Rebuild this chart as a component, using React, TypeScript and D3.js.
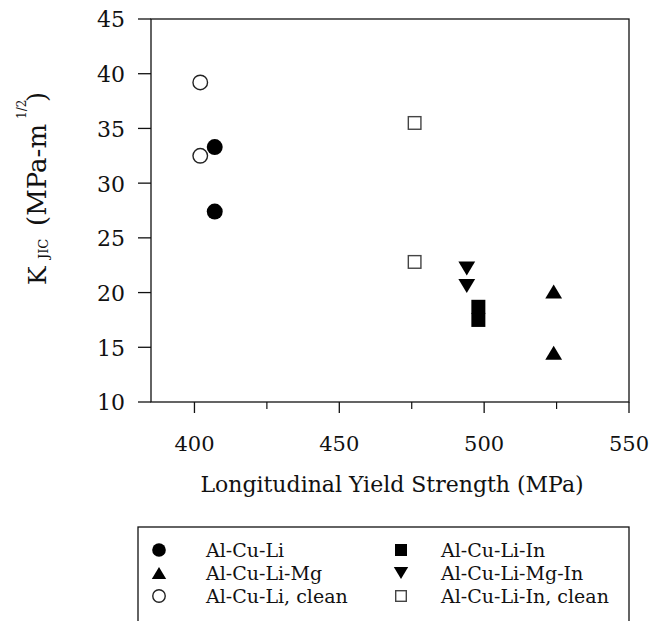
import React from "react";
import * as d3 from "d3";

// values
const alCuLi: [number, number][] = [[407, 33.3], [407, 27.4]];
const alCuLiMg: [number, number][] = [[524, 20.1], [524, 14.5]];
const alCuLiIn: [number, number][] = [[498, 18.7], [498, 17.5]];
const alCuLiMgIn: [number, number][] = [[494, 22.2], [494, 20.6]];
const alCuLiClean: [number, number][] = [[402, 39.2], [402, 32.5]];
const alCuLiInClean: [number, number][] = [[476, 35.5], [476, 22.8]];

const xTicks = [400, 450, 500, 550];
const xMinor = [425, 475, 525];
const yTicks = [10, 15, 20, 25, 30, 35, 40, 45];

const legendLeft = ["Al-Cu-Li", "Al-Cu-Li-Mg", "Al-Cu-Li, clean"];
const legendRight = ["Al-Cu-Li-In", "Al-Cu-Li-Mg-In", "Al-Cu-Li-In, clean"];

const W = 652;
const H = 621;
const plot = { left: 151, right: 629, top: 19, bottom: 402 };
const font = "DejaVu Serif, serif";

// marker shapes
const tri = (cx: number, cy: number, w: number, h: number, up: boolean) =>
  up
    ? `M${cx - w / 2},${cy + h / 2}L${cx + w / 2},${cy + h / 2}L${cx},${cy - h / 2}Z`
    : `M${cx - w / 2},${cy - h / 2}L${cx + w / 2},${cy - h / 2}L${cx},${cy + h / 2}Z`;

type Kind = "fcircle" | "ocircle" | "up" | "down" | "fsquare" | "osquare";

const Marker = ({ kind, cx, cy, s }: { kind: Kind; cx: number; cy: number; s: number }) => {
  switch (kind) {
    case "fcircle":
      return <circle cx={cx} cy={cy} r={s * 0.57} fill="#000" />;
    case "ocircle":
      return <circle cx={cx} cy={cy} r={s * 0.52} fill="#fff" stroke="#222" strokeWidth={1.4} />;
    case "up":
      return <path d={tri(cx, cy, s * 1.2, s, true)} fill="#000" />;
    case "down":
      return <path d={tri(cx, cy, s * 1.2, s, false)} fill="#000" />;
    case "fsquare":
      return <rect x={cx - s / 2} y={cy - s / 2} width={s} height={s} fill="#000" />;
    case "osquare":
      return (
        <rect x={cx - s / 2 + 0.7} y={cy - s / 2 + 0.7} width={s - 1.4} height={s - 1.4}
          fill="#fff" stroke="#444" strokeWidth={1.4} />
      );
  }
  return null;
};

export default function App() {
  const x = d3.scaleLinear().domain([385, 550]).range([plot.left, plot.right]);
  const y = d3.scaleLinear().domain([10, 45]).range([plot.bottom, plot.top]);

  const series: { data: [number, number][]; kind: Kind }[] = [
    { data: alCuLiClean, kind: "ocircle" },
    { data: alCuLi, kind: "fcircle" },
    { data: alCuLiInClean, kind: "osquare" },
    { data: alCuLiMgIn, kind: "down" },
    { data: alCuLiIn, kind: "fsquare" },
    { data: alCuLiMg, kind: "up" },
  ];

  const legendKindsL: Kind[] = ["fcircle", "up", "ocircle"];
  const legendKindsR: Kind[] = ["fsquare", "down", "osquare"];
  const rowY = [550, 573, 596];

  return (
    <svg width={W} height={H}
      style={{ position: "absolute", left: 0, top: 0, background: "#fff" }}>
      <rect width={W} height={H} fill="#fff" />
      <g fontFamily={font}>

      {/* frame */}
      <rect x={plot.left} y={plot.top} width={plot.right - plot.left} height={plot.bottom - plot.top}
        fill="none" stroke="#111" strokeWidth={1.3} />

      {/* y axis ticks */}
      {yTicks.map((t) => (
        <g key={t}>
          <line x1={plot.left - 13} x2={plot.left} y1={y(t)} y2={y(t)} stroke="#111" strokeWidth={1.3} />
          <text x={125} y={y(t)} dy="0.38em" textAnchor="end" fontSize={22} fill="#111">{t}</text>
        </g>
      ))}

      {/* x axis ticks */}
      {xTicks.map((t) => (
        <g key={t}>
          <line x1={x(t)} x2={x(t)} y1={plot.bottom} y2={plot.bottom + 11} stroke="#111" strokeWidth={1.3} />
          <text x={x(t)} y={451} textAnchor="middle" fontSize={21} fill="#111">{t}</text>
        </g>
      ))}
      {xMinor.map((t) => (
        <line key={t} x1={x(t)} x2={x(t)} y1={plot.bottom} y2={plot.bottom + 7} stroke="#111" strokeWidth={1.2} />
      ))}

      <text x={392} y={492} textAnchor="middle" fontSize={22} fill="#111">
        Longitudinal Yield Strength (MPa)
      </text>

      {/* y title */}
      <g transform="translate(46,0) rotate(-90)" fill="#111">
        <text x={-285} y={0} fontSize={25}>K</text>
        <text x={-259} y={2} fontSize={13}>JIC</text>
        <text x={-226} y={0} fontSize={26}>(MPa-m</text>
        <text x={-119} y={-20} fontSize={12}>1/2</text>
        <text x={-102} y={0} fontSize={26}>)</text>
      </g>

      {/* points */}
      {series.map((s, i) =>
        s.data.map(([vx, vy], j) => (
          <Marker key={`${i}-${j}`} kind={s.kind} cx={x(vx)} cy={y(vy)} s={14} />
        ))
      )}

      {/* legend */}
      <rect x={138} y={527} width={491} height={100} fill="none" stroke="#111" strokeWidth={1.3} />
      {legendLeft.map((name, i) => (
        <g key={name}>
          <Marker kind={legendKindsL[i]} cx={159} cy={rowY[i]} s={12} />
          <text x={206} y={rowY[i] + 7} fontSize={19} fill="#111">{name}</text>
        </g>
      ))}
      {legendRight.map((name, i) => (
        <g key={name}>
          <Marker kind={legendKindsR[i]} cx={401} cy={rowY[i]} s={12} />
          <text x={441} y={rowY[i] + 7} fontSize={19} fill="#111">{name}</text>
        </g>
      ))}
      </g>
    </svg>
  );
}
